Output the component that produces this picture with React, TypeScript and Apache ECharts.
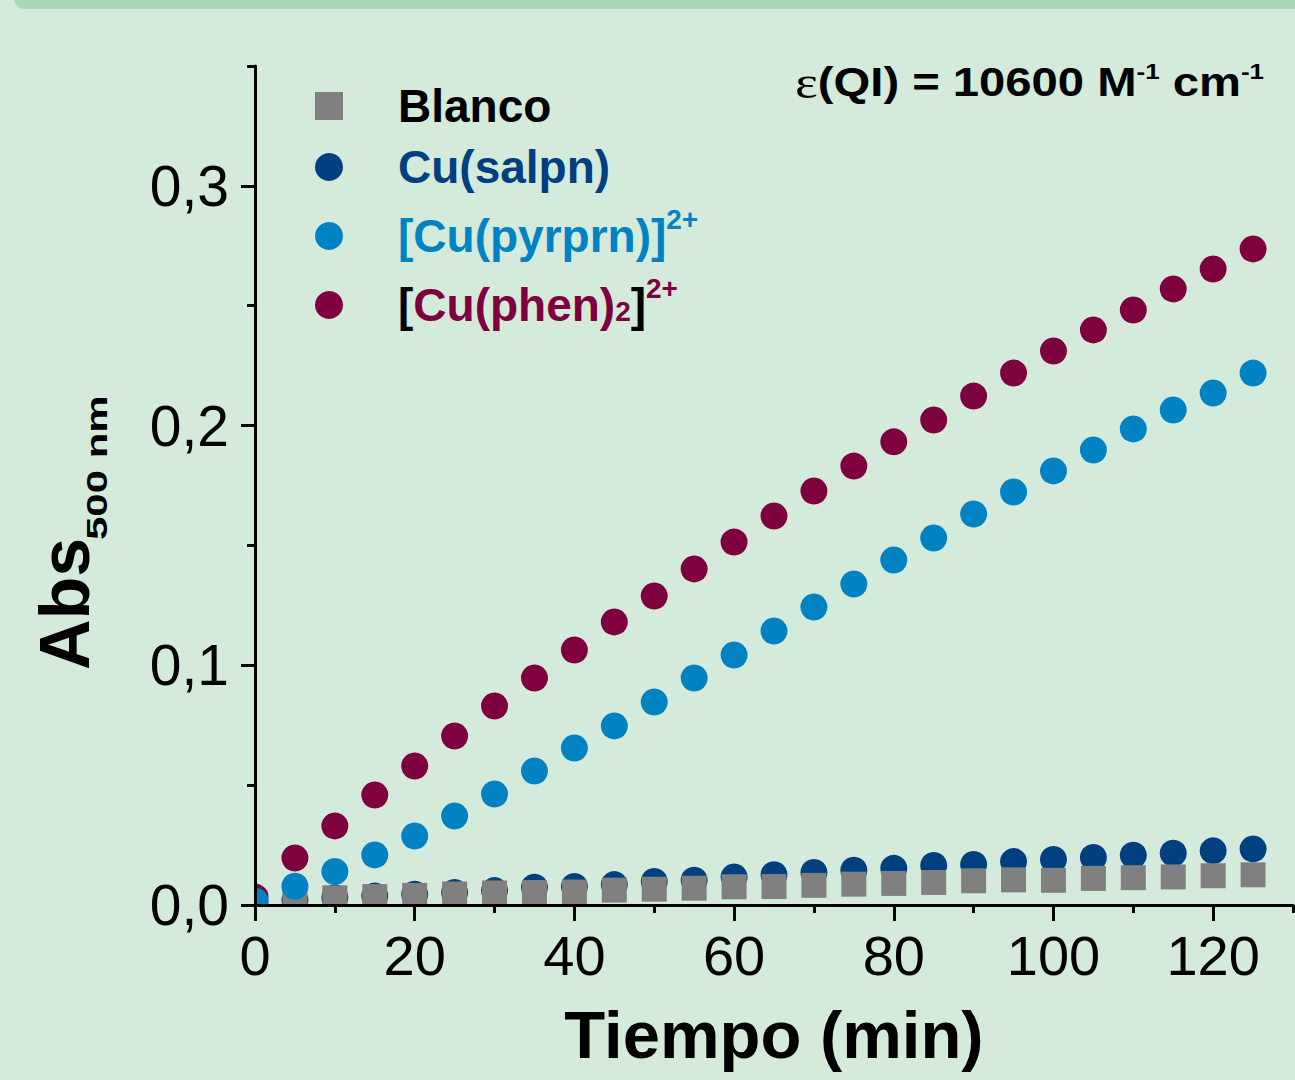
import React, { useEffect, useRef } from 'react';
import * as echarts from 'echarts';

const times = [0, 5, 10, 15, 20, 25, 30, 35, 40, 45, 50, 55, 60, 65, 70, 75, 80, 85, 90, 95, 100, 105, 110, 115, 120, 125];
const blanco = [0.001, 0.0015, 0.003, 0.0035, 0.004, 0.0046, 0.005, 0.0052, 0.0054, 0.0062, 0.0066, 0.007, 0.0076, 0.0077, 0.0082, 0.0087, 0.009, 0.0094, 0.0101, 0.0105, 0.0103, 0.0111, 0.0114, 0.0117, 0.0122, 0.0126];
const salpn = [0.001, 0.002, 0.003, 0.0038, 0.0045, 0.0052, 0.006, 0.0074, 0.0077, 0.0085, 0.0098, 0.0103, 0.0117, 0.0126, 0.0136, 0.0145, 0.0153, 0.0165, 0.0169, 0.0181, 0.019, 0.0198, 0.0208, 0.0216, 0.0226, 0.0234];
const pyrprn = [0.0017, 0.0078, 0.014, 0.0209, 0.0288, 0.0371, 0.0463, 0.0559, 0.0655, 0.0747, 0.0847, 0.0947, 0.1043, 0.1143, 0.1243, 0.1339, 0.1439, 0.1531, 0.1631, 0.1723, 0.1811, 0.1898, 0.1986, 0.2065, 0.2136, 0.2219];
const phen = [0.0033, 0.0196, 0.033, 0.0459, 0.058, 0.0705, 0.083, 0.0947, 0.1064, 0.1181, 0.1289, 0.1402, 0.1514, 0.1623, 0.1727, 0.1831, 0.1932, 0.2023, 0.2123, 0.2219, 0.2311, 0.2399, 0.2482, 0.257, 0.2653, 0.2737];

const xMajorTicks = [0, 20, 40, 60, 80, 100, 120];
const yMajorTicks = [0, 0.1, 0.2, 0.3];
const seriesNames = ['Blanco', 'Cu(salpn)', '[Cu(pyrprn)]2+', '[Cu(phen)2]2+'];

const FONT = 'Arial, "Liberation Sans", Helvetica, sans-serif';
const SERIF = '"Liberation Serif", "Times New Roman", serif';
const BG = '#d4eadb';
const C_GRAY = '#808080';
const C_DARK = '#003f80';
const C_LIGHT = '#0082c3';
const C_MAROON = '#7f003f';

const legendText: Record<string, string> = {
  'Blanco': '{g| }{k|Blanco}',
  'Cu(salpn)': '{g| }{d|Cu(salpn)}',
  '[Cu(pyrprn)]2+': '{g2| }{l|[Cu(pyrprn)]}{ls|2+}',
  '[Cu(phen)2]2+': '{g2| }{k2|[}{m|Cu(phen)}{mb|2}{k2|]}{ms|2+}',
};
const legendTops = [83, 144, 205, 274];

export default function App() {
  const ref = useRef<HTMLDivElement>(null);
  useEffect(() => {
    document.body.style.margin = '0';
    const chart = echarts.init(ref.current!, null, { renderer: 'svg' });
    const pair = (ys: number[]) => times.map((t, i) => [t, ys[i]]);
    const bold = (color: string, size: number, lh: number, va?: string) => ({
      color, fontSize: size, lineHeight: lh, fontWeight: 'bold', fontFamily: FONT, ...(va ? { verticalAlign: va } : {}),
    });
    const rich = {
      g: { width: 50, lineHeight: 48, fontSize: 46 },
      g2: { width: 50, lineHeight: 62, fontSize: 46 },
      k: bold('#000', 46, 48),
      d: bold(C_DARK, 46, 48),
      l: bold(C_LIGHT, 46, 62),
      ls: bold(C_LIGHT, 28, 28, 'top'),
      k2: bold('#000', 46, 62),
      m: bold(C_MAROON, 46, 62),
      mb: { ...bold(C_MAROON, 28, 28, 'top'), padding: [23, 0, 0, 0] },
      ms: bold(C_MAROON, 28, 28, 'top'),
    };
    const legends = seriesNames.map((name, i) => ({
      data: [name],
      orient: 'vertical', left: 315, top: legendTops[i], padding: 0,
      itemWidth: 28, itemHeight: 28, selectedMode: false,
      itemStyle: { borderWidth: 0 },
      formatter: (n: string) => legendText[n] || n,
      textStyle: { fontFamily: FONT, fontSize: 46, fontWeight: 'bold', rich },
    }));
    const option: any = {
      animation: false,
      backgroundColor: BG,
      grid: { left: 255, right: 2, top: 66, bottom: 175, containLabel: false, outerBoundsMode: 'none' },
      xAxis: [
        {
          type: 'value', min: 0, max: 130, interval: 20, position: 'bottom', z: 10,
          axisLine: { show: true, onZero: false, lineStyle: { color: '#000', width: 3 } },
          axisTick: { show: true, inside: false, length: 16, lineStyle: { color: '#000', width: 3 }, customValues: xMajorTicks },
          axisLabel: { customValues: xMajorTicks, fontSize: 56, color: '#000', fontFamily: FONT, margin: 22 },
          splitLine: { show: false },
          name: 'Tiempo (min)', nameLocation: 'middle', nameGap: 96,
          nameTextStyle: { fontSize: 67, fontWeight: 'bold', color: '#000', fontFamily: FONT },
        },
        {
          type: 'value', min: 0, max: 130, interval: 10, position: 'bottom', z: 10,
          axisLine: { show: false },
          axisTick: { show: true, inside: false, length: 8, lineStyle: { color: '#000', width: 3 } },
          axisLabel: { show: false },
          splitLine: { show: false },
        },
      ],
      yAxis: [
        {
          type: 'value', min: 0, max: 0.35, interval: 0.1, position: 'left', z: 10,
          axisLine: { show: true, onZero: false, lineStyle: { color: '#000', width: 3 } },
          axisTick: { show: true, inside: false, length: 14, lineStyle: { color: '#000', width: 3 }, customValues: yMajorTicks },
          axisLabel: {
            customValues: yMajorTicks, fontSize: 57, color: '#000', fontFamily: FONT, margin: 26,
            formatter: (v: number) => v.toFixed(1).replace('.', ','),
          },
          splitLine: { show: false },
        },
        {
          type: 'value', min: 0, max: 0.35, interval: 0.05, position: 'left', z: 10,
          axisLine: { show: false },
          axisTick: { show: true, inside: false, length: 8, lineStyle: { color: '#000', width: 3 } },
          axisLabel: { show: false },
          splitLine: { show: false },
        },
      ],
      legend: legends,
      graphic: [
        // masks emulating the plot-area clipping of the markers
        { type: 'rect', z: 5, silent: true, shape: { x: 0, y: 12, width: 254, height: 1068 }, style: { fill: BG } },
        { type: 'rect', z: 5, silent: true, shape: { x: 0, y: 906, width: 1295, height: 174 }, style: { fill: BG } },
        {
          type: 'rect', z: 6,
          shape: { x: 14, y: -30, width: 1330, height: 39, r: 11 },
          style: { fill: '#a9d8b6' },
        },
        {
          type: 'text', z: 12, x: 1264, y: 60, scaleX: 1.18,
          style: {
            text: '{e|ε}{b|(QI) = 10600 M}{s|-1}{b| cm}{s|-1}',
            align: 'right', verticalAlign: 'top',
            rich: {
              e: { fontFamily: SERIF, fontSize: 46, lineHeight: 44, fill: '#000' },
              b: { fontFamily: FONT, fontSize: 40, fontWeight: 'bold', lineHeight: 44, fill: '#000' },
              s: { fontFamily: FONT, fontSize: 22, fontWeight: 'bold', lineHeight: 22, verticalAlign: 'top', fill: '#000' },
            },
          },
        },
        {
          type: 'group', z: 12, x: 65, y: 670, rotation: Math.PI / 2,
          children: [
            {
              type: 'text', z: 12, x: 0, y: 0,
              style: { text: 'Abs', fontSize: 70, fontWeight: 'bold', fontFamily: FONT, fill: '#000', align: 'left', verticalAlign: 'middle' },
            },
            {
              type: 'text', z: 12, x: 130, y: 32, scaleX: 1.4,
              style: { text: '500 nm', fontSize: 30, fontWeight: 'bold', fontFamily: FONT, fill: '#000', align: 'left', verticalAlign: 'middle' },
            },
          ],
        },
      ],
      series: [
        {
          type: 'scatter', name: 'Cu(salpn)', data: pair(salpn), symbol: 'circle', symbolSize: 27, clip: true,
          itemStyle: { color: C_DARK, opacity: 1 }, emphasis: { disabled: true },
        },
        {
          type: 'scatter', name: 'Blanco', data: pair(blanco), symbol: 'rect', symbolSize: 25, clip: true,
          itemStyle: { color: C_GRAY, opacity: 1 }, emphasis: { disabled: true },
        },
        {
          type: 'scatter', name: '[Cu(phen)2]2+', data: pair(phen), symbol: 'circle', symbolSize: 27, clip: true,
          itemStyle: { color: C_MAROON, opacity: 1 }, emphasis: { disabled: true },
        },
        {
          type: 'scatter', name: '[Cu(pyrprn)]2+', data: pair(pyrprn), symbol: 'circle', symbolSize: 27, clip: true,
          itemStyle: { color: C_LIGHT, opacity: 1 }, emphasis: { disabled: true },
        },
      ],
    };
    chart.setOption(option);
    return () => chart.dispose();
  }, []);
  return <div ref={ref} style={{ width: 1295, height: 1080 }} />;
}
